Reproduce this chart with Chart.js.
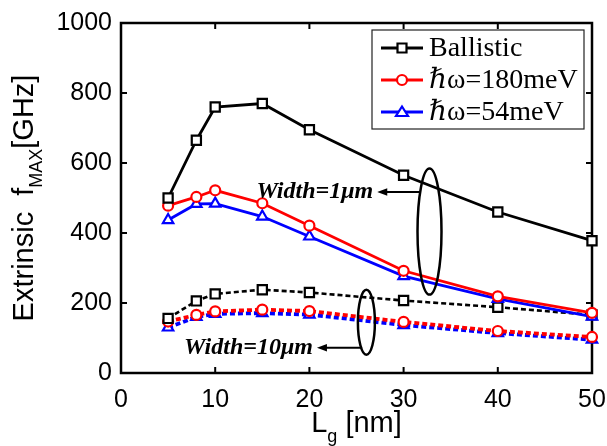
<!DOCTYPE html>
<html>
<head>
<meta charset="utf-8">
<script src="https://cdn.jsdelivr.net/npm/chart.js@4.4.1/dist/chart.umd.min.js"></script>
<style>
html,body{margin:0;padding:0;background:#fff;}
#wrap{width:607px;height:446px;position:relative;}
</style>
</head>
<body>
<div id="wrap"><canvas id="c" width="607" height="446"></canvas></div>
<script>
// ---- Data ----
const gateLengths = [5, 8, 10, 15, 20, 30, 40, 50];
const ballistic1um = [500, 665, 760, 770, 695, 565, 460, 378];
const hw180_1um   = [478, 503, 522, 485, 421, 292, 219, 172];
const hw54_1um    = [437, 483, 484, 447, 390, 277, 212, 161];
const ballistic10um = [156, 206, 226, 238, 230, 207, 188, 166];
const hw180_10um    = [147, 166, 176, 181, 177, 146, 120, 103];
const hw54_10um     = [130, 160, 169, 171, 167, 137, 114, 95];
const xTicks = [0, 10, 20, 30, 40, 50];
const yTicks = [0, 200, 400, 600, 800, 1000];
const legendLabels = ['Ballistic', 'ℏω=180meV', 'ℏω=54meV'];
const annotationTexts = ['Width=1μm', 'Width=10μm'];

function pts(ys){ return gateLengths.map((x,i)=>({x:x, y:ys[i]})); }

const BLACK='#000000', RED='#ff0000', BLUE='#0000ff';

function ds(label, ys, color, style, dashed, lw){
  return {
    label: label, data: pts(ys), borderColor: color, backgroundColor:'#ffffff',
    borderWidth: lw, pointStyle: style,
    pointRadius: style==='rect'?6.5:(style==='triangle'?6:5),
    pointBorderWidth: 2.2, pointBackgroundColor:'#ffffff', pointBorderColor: color,
    borderDash: dashed?[5,3]:[], tension:0, fill:false, clip:false, showLine:true
  };
}

const datasets = [
  ds(legendLabels[0], ballistic1um, BLACK, 'rect', false, 2.8),
  ds(legendLabels[1], hw180_1um, RED, 'circle', false, 2.8),
  ds(legendLabels[2], hw54_1um, BLUE, 'triangle', false, 2.8),
  ds('b10', ballistic10um, BLACK, 'rect', true, 2.6),
  ds('r10', hw180_10um, RED, 'circle', true, 3.8),
  ds('bl10', hw54_10um, BLUE, 'triangle', true, 3.8)
];
datasets.forEach((d,i)=>{ d.order = i; });

const SANS = '"Liberation Sans", Arial, Helvetica, sans-serif';
const SERIF = '"Liberation Serif", "Times New Roman", "DejaVu Serif", serif';

// annotation geometry in data units
const annot = {
  ell1: {x:32.75, y:404, rxPx:12, ryPx:63},
  arrow1: {x0:31.7, x1:27.2, y:517},
  ell2: {x:26.05, y:145, rxPx:8.5, ryPx:32.5},
  arrow2: {x0:25.6, x1:20.8, y:72}
};

const framePlugin = {
  id:'frame',
  beforeDatasetsDraw(chart){
    const {ctx, chartArea:a, scales} = chart;
    ctx.save();
    ctx.strokeStyle='#000'; ctx.lineWidth=2.5;
    ctx.strokeRect(a.left, a.top, a.right-a.left, a.bottom-a.top);
    ctx.lineWidth=2;
    const tl=6;
    xTicks.forEach(v=>{
      const x=scales.x.getPixelForValue(v);
      ctx.beginPath(); ctx.moveTo(x,a.bottom); ctx.lineTo(x,a.bottom-tl);
      ctx.moveTo(x,a.top); ctx.lineTo(x,a.top+tl); ctx.stroke();
    });
    yTicks.forEach(v=>{
      const y=scales.y.getPixelForValue(v);
      ctx.beginPath(); ctx.moveTo(a.left,y); ctx.lineTo(a.left+tl,y);
      ctx.moveTo(a.right,y); ctx.lineTo(a.right-tl,y); ctx.stroke();
    });
    ctx.restore();
  },
  afterDraw(chart){
    const {ctx, chartArea:a, scales} = chart;
    const sx=scales.x, sy=scales.y;
    ctx.save();
    ctx.fillStyle='#000';
    // Y title
    ctx.save();
    const cy=(a.top+a.bottom)/2;
    ctx.font='29px '+SANS;
    const p1='Extrinsic  f', p3='[GHz]';
    const w1=ctx.measureText(p1).width, w3=ctx.measureText(p3).width;
    ctx.font='18px '+SANS;
    const w2=ctx.measureText('MAX').width;
    const tot=w1+w2+w3;
    ctx.translate(33, cy+tot/2);
    ctx.rotate(-Math.PI/2);
    ctx.textBaseline='alphabetic'; ctx.textAlign='left';
    ctx.font='29px '+SANS; ctx.fillText(p1,0,0);
    ctx.font='18px '+SANS; ctx.fillText('MAX',w1,9);
    ctx.font='29px '+SANS; ctx.fillText(p3,w1+w2,0);
    ctx.restore();
    // X title
    ctx.save();
    ctx.textBaseline='alphabetic'; ctx.textAlign='left';
    ctx.font='29px '+SANS; const wl=ctx.measureText('L').width; const wr=ctx.measureText(' [nm]').width;
    ctx.font='18px '+SANS; const wg=ctx.measureText('g').width;
    const cx=(a.left+a.right)/2; let x0=cx-(wl+wg+wr)/2;
    ctx.font='29px '+SANS; ctx.fillText('L',x0,432);
    ctx.font='18px '+SANS; ctx.fillText('g',x0+wl,442);
    ctx.font='29px '+SANS; ctx.fillText(' [nm]',x0+wl+wg,432);
    ctx.restore();

    // Annotations
    ctx.strokeStyle='#000'; ctx.lineWidth=2.5;
    [annot.ell1, annot.ell2].forEach(e=>{
      ctx.beginPath();
      ctx.ellipse(sx.getPixelForValue(e.x), sy.getPixelForValue(e.y), e.rxPx, e.ryPx, 0, 0, Math.PI*2);
      ctx.stroke();
    });
    [[annot.arrow1, annotationTexts[0]], [annot.arrow2, annotationTexts[1]]].forEach(([ar,txt])=>{
      const xa=sx.getPixelForValue(ar.x0), xb=sx.getPixelForValue(ar.x1), y=sy.getPixelForValue(ar.y);
      ctx.lineWidth=2;
      ctx.beginPath(); ctx.moveTo(xa,y); ctx.lineTo(xb+8,y); ctx.stroke();
      ctx.beginPath(); ctx.moveTo(xb,y); ctx.lineTo(xb+10,y-3.8); ctx.lineTo(xb+10,y+3.8); ctx.closePath(); ctx.fill();
      ctx.font='italic bold 24px '+SERIF;
      ctx.textAlign='right'; ctx.textBaseline='middle';
      ctx.fillText(txt, xb-4, y);
    });

    // Legend
    const lx=372, ly=30, lw=212, lh=99;
    ctx.fillStyle='#fff'; ctx.fillRect(lx,ly,lw,lh);
    ctx.strokeStyle='#222'; ctx.lineWidth=1.2; ctx.strokeRect(lx,ly,lw,lh);
    const rows=[48,80,112];
    for(let i=0;i<3;i++){
      const d=chart.data.datasets[i]; const y=rows[i];
      ctx.strokeStyle=d.borderColor; ctx.lineWidth=2.8; ctx.setLineDash([]);
      ctx.beginPath(); ctx.moveTo(381,y); ctx.lineTo(423,y); ctx.stroke();
      ctx.fillStyle='#fff'; ctx.lineWidth=2.2;
      ctx.beginPath();
      if(d.pointStyle==='rect'){ ctx.rect(402-4.5,y-4.5,9,9); }
      else if(d.pointStyle==='circle'){ ctx.arc(402,y,5,0,Math.PI*2); }
      else { ctx.moveTo(402,y-5.5); ctx.lineTo(408,y+4); ctx.lineTo(396,y+4); ctx.closePath(); }
      ctx.fill(); ctx.stroke();
      ctx.fillStyle='#000'; ctx.font='28px '+SERIF; ctx.textAlign='left'; ctx.textBaseline='middle';
      ctx.fillText(d.label, 429, y+1);
    }
    ctx.restore();
  }
};

new Chart(document.getElementById('c'), {
  type:'line',
  data:{ datasets: datasets },
  options:{
    responsive:false, animation:false, devicePixelRatio:1,
    layout:{ padding:{ top:23, right:15, left:0, bottom:0 } },
    plugins:{ legend:{display:false}, tooltip:{enabled:false}, title:{display:false} },
    scales:{
      x:{ type:'linear', min:0, max:50,
        afterBuildTicks(s){ s.ticks = xTicks.map(v=>({value:v})); },
        afterFit(s){ s.height = 73; s.paddingLeft = 0; s.paddingRight = 0; },
        grid:{display:false, drawTicks:false}, border:{display:false},
        ticks:{ color:'#000', font:{family:SANS, size:25}, padding:12, maxRotation:0, autoSkip:false,
          callback:(v)=>String(v) }
      },
      y:{ type:'linear', min:0, max:1000,
        afterBuildTicks(s){ s.ticks = yTicks.map(v=>({value:v})); },
        afterFit(s){ s.width = 121; s.paddingTop = 0; s.paddingBottom = 0; },
        grid:{display:false, drawTicks:false}, border:{display:false},
        ticks:{ color:'#000', font:{family:SANS, size:25}, padding:9, autoSkip:false,
          callback:(v)=>String(v) }
      }
    }
  },
  plugins:[framePlugin]
});
</script>
</body>
</html>
